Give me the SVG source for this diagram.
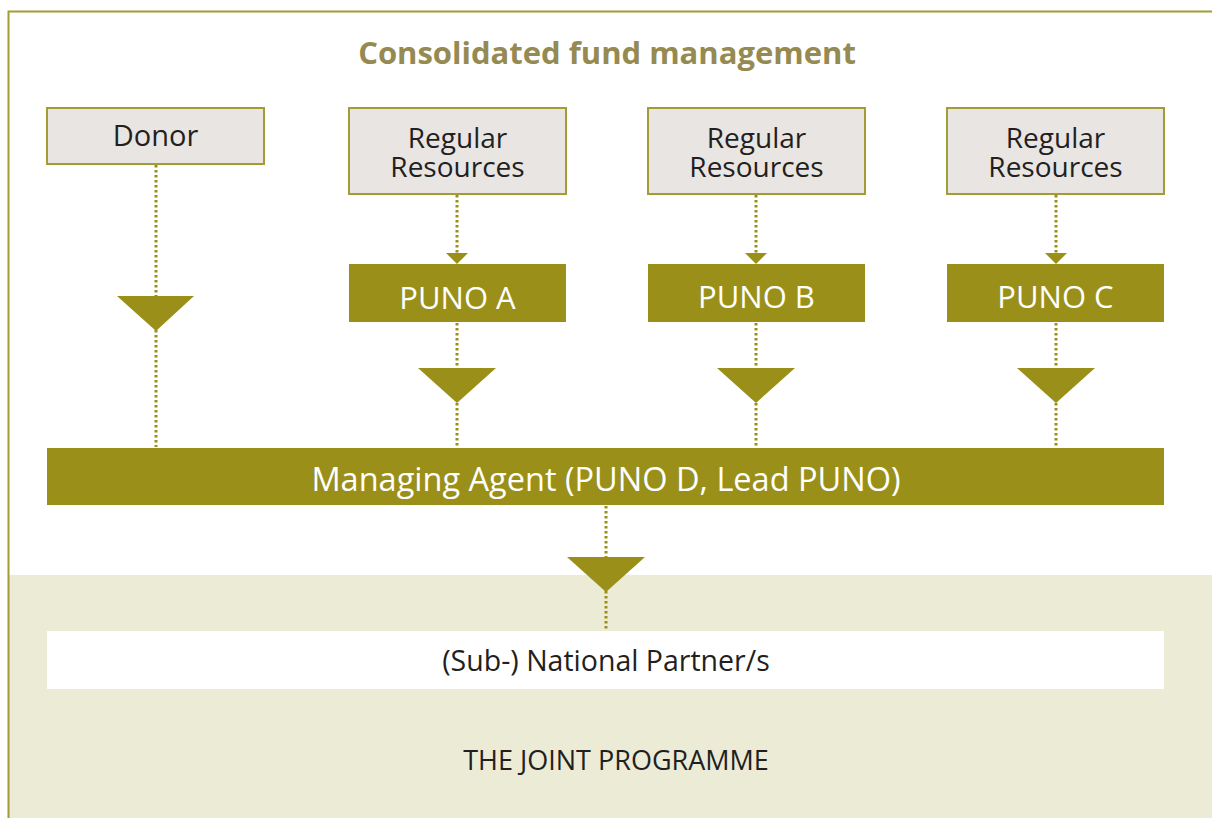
<svg xmlns="http://www.w3.org/2000/svg" width="1212" height="818" viewBox="0 0 1212 818">
<style>
.src rect{fill:#E8E5E3;stroke:#A39B33;stroke-width:2}
.src text{font-family:"Open Sans","Noto Sans",sans-serif;font-size:28px;fill:#231F20;text-anchor:middle}
.puno rect{fill:#9A9019}
.puno text{font-family:"Open Sans","Noto Sans",sans-serif;font-size:31px;fill:#FFFFFF;text-anchor:middle}
.dot{stroke:#9A9019;stroke-width:3;stroke-dasharray:2.5 2.5;fill:none}
.tri{fill:#9A9019}
</style>
<rect x="0" y="0" width="1212" height="818" fill="#FFFFFF"/>
<rect x="9" y="575" width="1203" height="243" fill="#ECEBD6"/>
<path d="M8.5 818 V11.5 H1212" fill="none" stroke="#A39B33" stroke-width="2"/>
<text x="607" y="64" font-family="Open Sans, Noto Sans, sans-serif" font-size="31" font-weight="bold" fill="#958A52" text-anchor="middle">Consolidated fund management</text>
<g id="connectors">
<line class="dot" x1="156" y1="165" x2="156" y2="447"/>
<line class="dot" x1="457" y1="195" x2="457" y2="255"/>
<line class="dot" x1="457" y1="323" x2="457" y2="447"/>
<line class="dot" x1="756" y1="195" x2="756" y2="255"/>
<line class="dot" x1="756" y1="323" x2="756" y2="447"/>
<line class="dot" x1="1056" y1="195" x2="1056" y2="255"/>
<line class="dot" x1="1056" y1="323" x2="1056" y2="447"/>
<line class="dot" x1="606" y1="506" x2="606" y2="631"/>
<polygon class="tri" points="117,296 194,296 156,331"/>
<polygon class="tri" points="446,253 468,253 457,264"/>
<polygon class="tri" points="418,368 496,368 457,403"/>
<polygon class="tri" points="745,253 767,253 756,264"/>
<polygon class="tri" points="717,368 795,368 756,403"/>
<polygon class="tri" points="1045,253 1067,253 1056,264"/>
<polygon class="tri" points="1017,368 1095,368 1056,403"/>
<polygon class="tri" points="567,557 645,557 606,592"/>
</g>
<g id="donor" class="src">
<rect x="47" y="108" width="217" height="56"/>
<text x="155.5" y="146" style="font-size:29px">Donor</text>
</g>
<g id="rr1" class="src">
<rect x="349" y="108" width="217" height="86"/>
<text x="457.5" y="148">Regular</text>
<text x="457.5" y="177">Resources</text>
</g>
<g id="rr2" class="src">
<rect x="648" y="108" width="217" height="86"/>
<text x="756.5" y="148">Regular</text>
<text x="756.5" y="177">Resources</text>
</g>
<g id="rr3" class="src">
<rect x="947" y="108" width="217" height="86"/>
<text x="1055.5" y="148">Regular</text>
<text x="1055.5" y="177">Resources</text>
</g>
<g id="punoA" class="puno">
<rect x="349" y="264" width="217" height="58"/>
<text x="457.5" y="309">PUNO A</text>
</g>
<g id="punoB" class="puno">
<rect x="648" y="264" width="217" height="58"/>
<text x="756.5" y="308">PUNO B</text>
</g>
<g id="punoC" class="puno">
<rect x="947" y="264" width="217" height="58"/>
<text x="1055.5" y="308">PUNO C</text>
</g>
<g id="managing" class="puno">
<rect x="47" y="448" width="1117" height="57"/>
<text x="606" y="491" style="font-size:32.5px">Managing Agent (PUNO D, Lead PUNO)</text>
</g>
<g id="partners">
<rect x="47" y="631" width="1117" height="58" fill="#FFFFFF"/>
<text x="606" y="671" font-family="Open Sans, Noto Sans, sans-serif" font-size="28.5" fill="#231F20" text-anchor="middle">(Sub-) National Partner/s</text>
</g>
<text x="616" y="770" font-family="Open Sans, Noto Sans, sans-serif" font-size="27" fill="#231F20" text-anchor="middle">THE JOINT PROGRAMME</text>
</svg>
